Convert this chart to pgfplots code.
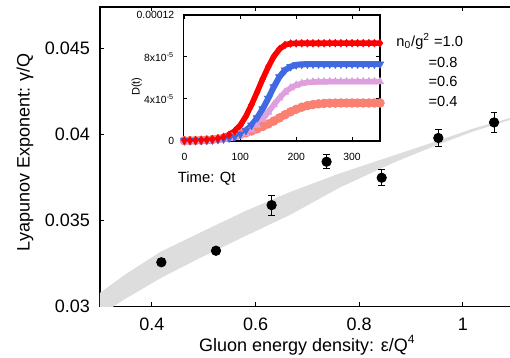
\documentclass[border=0pt]{standalone}
\usepackage{pgfplots}
\pgfplotsset{compat=1.18}
\usepackage{pgfplotstable}
\usepackage{fontspec}
\setmainfont{Liberation Sans}
\definecolor{royalblue}{RGB}{65,105,225}
\definecolor{plumc}{RGB}{221,160,221}
\definecolor{salmonc}{RGB}{250,128,114}
\definecolor{bandc}{RGB}{221,221,221}

\pgfplotstableread{
t red blue plum salmon
0 0.05 0.03 0.03 0.03
10 0.06 0.03 0.03 0.04
20 0.07 0.04 0.04 0.05
30 0.09 0.05 0.05 0.07
40 0.12 0.07 0.07 0.10
50 0.17 0.10 0.09 0.14
60 0.25 0.14 0.13 0.20
70 0.38 0.20 0.18 0.28
80 0.60 0.28 0.25 0.38
90 0.95 0.42 0.35 0.50
100 1.50 0.65 0.50 0.63
110 2.35 1.00 0.72 0.78
120 3.45 1.50 1.05 0.95
130 4.65 2.20 1.50 1.15
140 5.90 3.05 2.05 1.38
150 7.05 4.05 2.75 1.62
160 8.05 5.15 3.45 1.90
170 8.75 6.10 4.10 2.20
180 9.15 6.75 4.65 2.50
190 9.28 7.08 5.05 2.78
200 9.30 7.25 5.32 3.02
210 9.31 7.30 5.48 3.22
220 9.31 7.32 5.57 3.37
230 9.31 7.33 5.61 3.47
240 9.31 7.33 5.63 3.54
250 9.31 7.33 5.64 3.58
260 9.32 7.33 5.65 3.60
270 9.32 7.33 5.65 3.61
280 9.32 7.33 5.65 3.62
290 9.32 7.33 5.65 3.62
300 9.32 7.33 5.65 3.62
310 9.32 7.33 5.65 3.62
320 9.32 7.33 5.65 3.62
330 9.32 7.33 5.65 3.62
340 9.32 7.33 5.65 3.62
350 9.32 7.33 5.65 3.62
}\insetdata

\begin{document}
\begin{tikzpicture}
\begin{axis}[
  at={(0,0)}, anchor=south west,
  scale only axis, width=207.4pt, height=149.8pt,
  xmin=0.3, xmax=1.1, ymin=0.03, ymax=0.0474,
  xtick={0.4,0.6,0.8,1}, xticklabels={0.4,0.6,0.8,1},
  ytick={0.03,0.035,0.04,0.045}, yticklabels={0.03,0.035,0.04,0.045},
  scaled ticks=false,
  tick align=inside, major tick length=2.2pt,
  tick style={black, line width=0.5pt},
  axis line style={line width=0.7pt},
  ticklabel style={font=\fontsize{9}{10}\selectfont},
  xticklabel style={yshift=-2.3pt},
  yticklabel style={xshift=-1.5pt},
  label style={font=\fontsize{9}{10}\selectfont},
  xlabel={Gluon energy density: ε/Q\textsuperscript{4}},
  ylabel={Lyapunov Exponent: γ/Q},
  xlabel style={at={(axis description cs:0.5,-0.128)}, anchor=center},
  ylabel style={at={(axis description cs:-0.181,0.516)}, anchor=center},
]
\addplot[fill=bandc, draw=none] coordinates {
(0.3,0.03080) (0.35,0.03190) (0.4176,0.03320) (0.4929,0.03430) (0.58,0.03555)
(0.6664,0.03666) (0.7630,0.03775) (0.8689,0.03881) (0.95,0.03962) (1.02,0.04035) (1.1,0.04104)
(1.1,0.04093) (1.02,0.04018) (0.95,0.03939) (0.8689,0.03840) (0.7630,0.03693) (0.6664,0.03533)
(0.58,0.03410) (0.4929,0.03283) (0.4176,0.03167) (0.35,0.03048) (0.3,0.02952)} -- cycle;
\addplot[only marks, mark=*, mark size=2.35pt, black,
  error bars/.cd, y dir=both, y explicit,
  error bar style={line width=0.5pt, black},
  error mark options={rotate=90, mark size=1.6pt, line width=0.5pt, black}]
  coordinates {
  (0.4183,0.03258) +- (0,0.0002)
  (0.5237,0.03325) +- (0,0.0002)
  (0.631,0.03590) +- (0,0.00058)
  (0.737,0.03842) +- (0,0.0004)
  (0.8433,0.03749) +- (0,0.00046)
  (0.9525,0.03980) +- (0,0.00052)
  (1.060,0.04070) +- (0,0.00058)
  };
\node[anchor=base west, inner sep=0, font=\fontsize{7.3}{8}\selectfont] at (axis cs:0.8709,0.045127) {n\textsubscript{0}/g\textsuperscript{2} =1.0};
\node[anchor=base west, inner sep=0, font=\fontsize{7.3}{8}\selectfont] at (axis cs:0.9332,0.043873) {=0.8};
\node[anchor=base west, inner sep=0, font=\fontsize{7.3}{8}\selectfont] at (axis cs:0.9332,0.042804) {=0.6};
\node[anchor=base west, inner sep=0, font=\fontsize{7.3}{8}\selectfont] at (axis cs:0.9332,0.041643) {=0.4};
\end{axis}

\begin{axis}[
  at={(41.65pt,82.85pt)}, anchor=south west,
  scale only axis, width=98.35pt, height=63pt,
  xmin=-2, xmax=350, ymin=0, ymax=12,
  clip=false,
  xtick={0,100,200,300},
  ytick={0,4,8,12},
  yticklabels={0,4x10\textsuperscript{-5},8x10\textsuperscript{-5},0.00012},
  xticklabels={0,100,200,300},
  tick align=inside, major tick length=2pt,
  tick style={black, line width=0.5pt},
  axis line style={line width=0.7pt},
  ticklabel style={font=\fontsize{5.2}{6}\selectfont},
  xticklabel style={yshift=-2.4pt},
  yticklabel style={xshift=-1pt},
]
\addplot[salmonc, line width=3.6pt, mark=*, mark size=2.2pt, mark options={solid, fill=salmonc, draw=salmonc, line width=0.3pt}] table[x=t, y=salmon] {\insetdata};
\addplot[plumc, line width=2.8pt, mark=triangle*, mark size=2.1pt, mark options={solid, fill=plumc, draw=plumc, line width=0.3pt}] table[x=t, y=plum] {\insetdata};
\addplot[royalblue, line width=3pt, mark=triangle*, mark size=2.2pt, mark options={solid, rotate=180, fill=royalblue, draw=royalblue, line width=0.3pt}] table[x=t, y=blue] {\insetdata};
\addplot[red, line width=2.8pt, mark=diamond*, mark size=1.9pt, mark options={solid, fill=red, draw=red, line width=0.3pt}] table[x=t, y=red] {\insetdata};
\node[font=\fontsize{7.4}{8}\selectfont] at (rel axis cs:0.119,-0.30) {Time: Qt};
\node[rotate=90, font=\fontsize{5.5}{6}\selectfont] at (rel axis cs:-0.237,0.431) {D(t)};
\end{axis}
\pgfresetboundingbox
\useasboundingbox (-50pt,-25.65pt) rectangle (205pt,153.35pt);
\end{tikzpicture}
\end{document}
